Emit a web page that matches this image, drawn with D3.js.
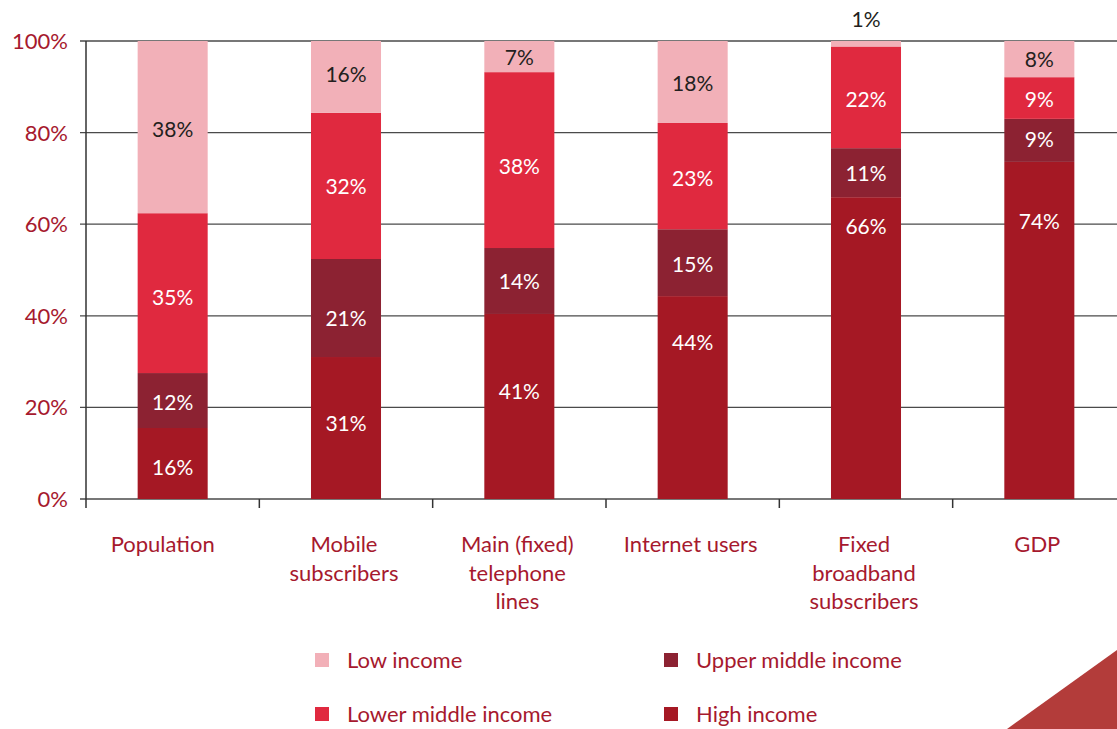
<!DOCTYPE html>
<html>
<head>
<meta charset="utf-8">
<script src="https://cdn.jsdelivr.net/npm/d3@7"></script>
<style>
  body { margin: 0; background: #fff; }
  svg { display: block; font-family: "Lato", "Open Sans", sans-serif; }
</style>
</head>
<body>
<div id="chart"></div>
<script>
// Categories and stacked shares (percent), bottom to top: high, upper middle, lower middle, low
const categories = ["Population", "Mobile subscribers", "Main (fixed) telephone lines",
                    "Internet users", "Fixed broadband subscribers", "GDP"];
const categoryLines = [["Population"], ["Mobile", "subscribers"], ["Main (fixed)", "telephone", "lines"],
                       ["Internet users"], ["Fixed", "broadband", "subscribers"], ["GDP"]];
const highIncome        = [15.5, 31.0, 40.4, 44.3, 65.9, 73.6];
const upperMiddleIncome = [12.0, 21.4, 14.4, 14.6, 10.7,  9.4];
const lowerMiddleIncome = [34.9, 31.9, 38.4, 23.2, 22.2,  9.1];
const lowIncome         = [37.6, 15.7,  6.8, 17.9,  1.2,  7.9];
const labelHigh   = ["16%", "31%", "41%", "44%", "66%", "74%"];
const labelUpper  = ["12%", "21%", "14%", "15%", "11%", "9%"];
const labelLower  = ["35%", "32%", "38%", "23%", "22%", "9%"];
const labelLow    = ["38%", "16%", "7%", "18%", "1%", "8%"];
// where each data label sits, on the percent scale
const labelHighAt  = [6.8, 16.4, 23.4, 34.1, 59.6, 60.7];
const labelUpperAt = [21.0, 39.5, 47.6, 51.3, 71.0, 78.4];
const labelLowerAt = [43.9, 68.3, 72.7, 70.1, 87.3, 87.3];
const labelLowAt   = [80.6, 92.6, 96.5, 90.8, 104.8, 95.9];
const yTicks = [0, 20, 40, 60, 80, 100];

const seriesKeys = ["high", "upper", "lower", "low"];
const seriesNames = { high: "High income", upper: "Upper middle income", lower: "Lower middle income", low: "Low income" };
const colors = { high: "#a51824", upper: "#8c2232", lower: "#e0293f", low: "#f2b0b8" };
const labels = { high: labelHigh, upper: labelUpper, lower: labelLower, low: labelLow };
const labelAt = { high: labelHighAt, upper: labelUpperAt, lower: labelLowerAt, low: labelLowAt };

const W = 1117, H = 729;
const plotTop = 41, plotBottom = 499, axisLeft = 86;

const table = categories.map((c, i) => ({
  category: c, i: i,
  high: highIncome[i], upper: upperMiddleIncome[i], lower: lowerMiddleIncome[i], low: lowIncome[i]
}));

const svg = d3.select("#chart").append("svg")
  .attr("width", W).attr("height", H);

const x = d3.scaleBand().domain(categories).range([axisLeft, 1126]).paddingInner(0.596).paddingOuter(0.298);
const y = d3.scaleLinear().domain([0, 100]).range([plotBottom, plotTop]);

// Gridlines
svg.append("g").selectAll("line").data(yTicks).join("line")
  .attr("x1", 80).attr("x2", W)
  .attr("y1", d => y(d)).attr("y2", d => y(d))
  .attr("stroke", "#4a4a4a").attr("stroke-width", 1.3);

// Y axis labels
svg.append("g").selectAll("text").data(yTicks).join("text")
  .attr("x", 68).attr("y", d => y(d)).attr("dy", "0.36em")
  .attr("text-anchor", "end")
  .attr("fill", "#a6192e").style("font-size", "22px")
  .text(d => d + "%");

// Stacked bars
const stacked = d3.stack().keys(seriesKeys)(table);

const layers = svg.append("g").selectAll("g").data(stacked).join("g")
  .attr("fill", d => colors[d.key]);

layers.selectAll("rect").data(d => d.map(v => Object.assign(v, { key: d.key }))).join("rect")
  .attr("x", d => x(d.data.category))
  .attr("width", x.bandwidth())
  .attr("y", d => y(d[1]))
  .attr("height", d => y(d[0]) - y(d[1]));

// Segment labels
layers.selectAll("text").data(d => d).join("text")
  .attr("x", d => x(d.data.category) + x.bandwidth() / 2)
  .attr("y", d => y(labelAt[d.key][d.data.i]))
  .attr("dy", "0.36em")
  .attr("text-anchor", "middle")
  .attr("fill", d => d.key === "low" ? "#231f20" : "#fff")
  .style("font-size", "21px")
  .text(d => labels[d.key][d.data.i]);

// Axis lines and category ticks
svg.append("line").attr("x1", axisLeft).attr("x2", axisLeft).attr("y1", plotTop).attr("y2", 508)
  .attr("stroke", "#333").attr("stroke-width", 1.5);
const bandStep = x.step();
svg.append("g").selectAll("line").data(d3.range(1, categories.length)).join("line")
  .attr("x1", d => axisLeft + d * bandStep).attr("x2", d => axisLeft + d * bandStep)
  .attr("y1", plotBottom).attr("y2", 508)
  .attr("stroke", "#333").attr("stroke-width", 1.5);

// Category labels
const catLabels = svg.append("g").selectAll("text").data(categories).join("text")
  .attr("x", (d, i) => x(d) + x.bandwidth() / 2 - (i === 0 ? 10 : 2))
  .attr("y", 552)
  .attr("text-anchor", "middle")
  .attr("fill", "#a6192e").style("font-size", "22px");
catLabels.selectAll("tspan").data((d, i) => categoryLines[i]).join("tspan")
  .attr("x", function () { return this.parentNode.getAttribute("x"); })
  .attr("dy", (d, i) => i === 0 ? 0 : 28.5)
  .text(d => d);

// Legend
const legendItems = [
  { key: "low", x: 315, y: 660 }, { key: "upper", x: 664, y: 660 },
  { key: "lower", x: 315, y: 714 }, { key: "high", x: 664, y: 714 }
];
const legend = svg.append("g").selectAll("g").data(legendItems).join("g")
  .attr("transform", d => `translate(${d.x},${d.y})`);
legend.append("rect").attr("x", 0).attr("y", -7).attr("width", 14).attr("height", 14)
  .attr("fill", d => colors[d.key]);
legend.append("text").attr("x", 32).attr("dy", "0.36em")
  .attr("fill", "#a6192e").style("font-size", "22px")
  .text(d => seriesNames[d.key]);

// Decorative corner triangle
svg.append("path").attr("d", `M1007,${H} L${W},650 L${W},${H} Z`).attr("fill", "#b33c3a");
</script>
</body>
</html>
